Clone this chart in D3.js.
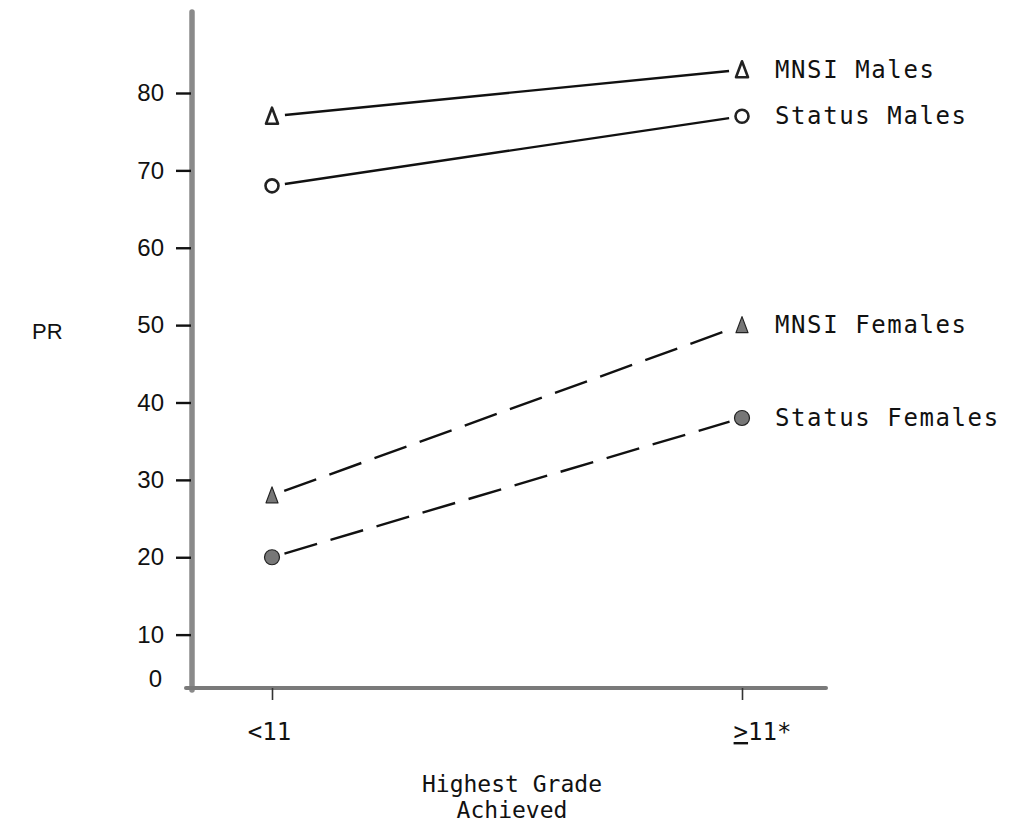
<!DOCTYPE html>
<html>
<head>
<meta charset="utf-8">
<script src="https://cdn.jsdelivr.net/npm/d3@7"></script>
<style>
  body { margin: 0; background: #fff; }
  svg { display: block; }
  .mono { font-family: "DejaVu Sans Mono", "Liberation Mono", monospace; fill: #111; }
  .sans { font-family: "Liberation Sans", Arial, sans-serif; fill: #111; }
</style>
</head>
<body>
<svg id="chart" width="1010" height="839"></svg>
<script>
// categories on the x axis
const grades = ["<11", ">=11"];
const gradeLabels = ["<11", "≥11*"];

// PR values, one array per group
const mnsiMales = [77, 83];
const statusMales = [68, 77];
const mnsiFemales = [28, 50];
const statusFemales = [20, 38];

const seriesNames = ["MNSI Males", "Status Males", "MNSI Females", "Status Females"];
const yTicks = [10, 20, 30, 40, 50, 60, 70, 80];

const series = [
  { name: seriesNames[0], values: mnsiMales, shape: "triangle", filled: false, dashed: false },
  { name: seriesNames[1], values: statusMales, shape: "circle", filled: false, dashed: false },
  { name: seriesNames[2], values: mnsiFemales, shape: "triangle", filled: true, dashed: true },
  { name: seriesNames[3], values: statusFemales, shape: "circle", filled: true, dashed: true }
];

const svg = d3.select("#chart");

const axisX = 192;      // y axis position
const baseY = 688;      // x axis position

const x = d3.scalePoint().domain(grades).range([272, 742]);
const y = d3.scaleLinear().domain([0, 80]).range([712, 93]);

// axis lines (thick grey like the scan)
svg.append("line")
  .attr("x1", axisX).attr("x2", axisX)
  .attr("y1", 12).attr("y2", baseY + 2)
  .attr("stroke", "#8a8a8a").attr("stroke-width", 5.5)
  .attr("stroke-linecap", "round");
svg.append("line")
  .attr("x1", axisX - 6).attr("x2", 826)
  .attr("y1", baseY).attr("y2", baseY)
  .attr("stroke", "#7a7a7a").attr("stroke-width", 4)
  .attr("stroke-linecap", "round");

// y axis ticks
const yAxis = d3.axisLeft(y).tickValues(yTicks).tickSize(15).tickPadding(12);
const gy = svg.append("g")
  .attr("transform", `translate(${axisX - 1},0)`)
  .call(yAxis);
gy.select(".domain").remove();
gy.selectAll(".tick line").attr("stroke", "#111").attr("stroke-width", 2.4);
gy.selectAll(".tick text")
  .attr("class", "sans")
  .style("font-size", "24px");

// zero label sits on the x axis
svg.append("text")
  .attr("class", "sans")
  .attr("x", 162).attr("y", baseY - 1)
  .attr("text-anchor", "end")
  .style("font-size", "24px")
  .text("0");

// x axis ticks
const xAxis = d3.axisBottom(x).tickSize(12).tickFormat(() => "");
const gx = svg.append("g")
  .attr("transform", `translate(0,${baseY})`)
  .call(xAxis);
gx.select(".domain").remove();
gx.selectAll(".tick line").attr("stroke", "#333").attr("stroke-width", 1.6);

gx.selectAll(".tick").each(function (d, i) {
  const t = d3.select(this).append("text")
    .attr("class", "mono")
    .attr("y", 52)
    .attr("dx", i === 0 ? -3 : 20)
    .attr("text-anchor", "middle")
    .style("font-size", "24px");
  if (i === 0) {
    t.text(gradeLabels[0]);
  } else {
    t.append("tspan").style("text-decoration", "underline").text(">");
    t.append("tspan").text("11*");
  }
});

// axis titles
svg.append("text")
  .attr("class", "mono")
  .attr("x", 512).attr("y", 792)
  .attr("text-anchor", "middle")
  .style("font-size", "23px")
  .text("Highest Grade");
svg.append("text")
  .attr("class", "mono")
  .attr("x", 512).attr("y", 818)
  .attr("text-anchor", "middle")
  .style("font-size", "23px")
  .text("Achieved");

svg.append("text")
  .attr("class", "sans")
  .attr("x", 32).attr("y", 339)
  .style("font-size", "22px")
  .text("PR");

// lines, pulled back from the markers a little
const gap = 13;
series.forEach(s => {
  const x0 = x(grades[0]), x1 = x(grades[1]);
  const y0 = y(s.values[0]), y1 = y(s.values[1]);
  const len = Math.hypot(x1 - x0, y1 - y0);
  const ux = (x1 - x0) / len, uy = (y1 - y0) / len;
  svg.append("line")
    .attr("x1", x0 + ux * gap).attr("y1", y0 + uy * gap)
    .attr("x2", x1 - ux * gap).attr("y2", y1 - uy * gap)
    .attr("stroke", "#111")
    .attr("stroke-width", 2.4)
    .attr("stroke-dasharray", s.dashed ? "34,14" : null);
});

// markers: tall narrow triangles and small circles
const triPath = "M0,-8.5L6,7.5L-6,7.5Z";
series.forEach(s => {
  s.values.forEach((v, i) => {
    const cx = x(grades[i]), cy = y(v);
    let m;
    if (s.shape === "triangle") {
      m = svg.append("path").attr("d", triPath).attr("transform", `translate(${cx},${cy})`);
    } else {
      m = svg.append("circle").attr("cx", cx).attr("cy", cy).attr("r", s.filled ? 7.5 : 6.5);
    }
    m.attr("fill", s.filled ? "#777" : "#fff")
      .attr("stroke", "#222")
      .attr("stroke-linejoin", "round")
      .attr("stroke-width", s.filled ? 1.2 : 2.6);
  });
  // label on the right
  svg.append("text")
    .attr("class", "mono")
    .attr("x", 775)
    .attr("y", y(s.values[1]) + 8)
    .style("font-size", "24px")
    .style("letter-spacing", "1.6px")
    .text(s.name);
});
</script>
</body>
</html>
